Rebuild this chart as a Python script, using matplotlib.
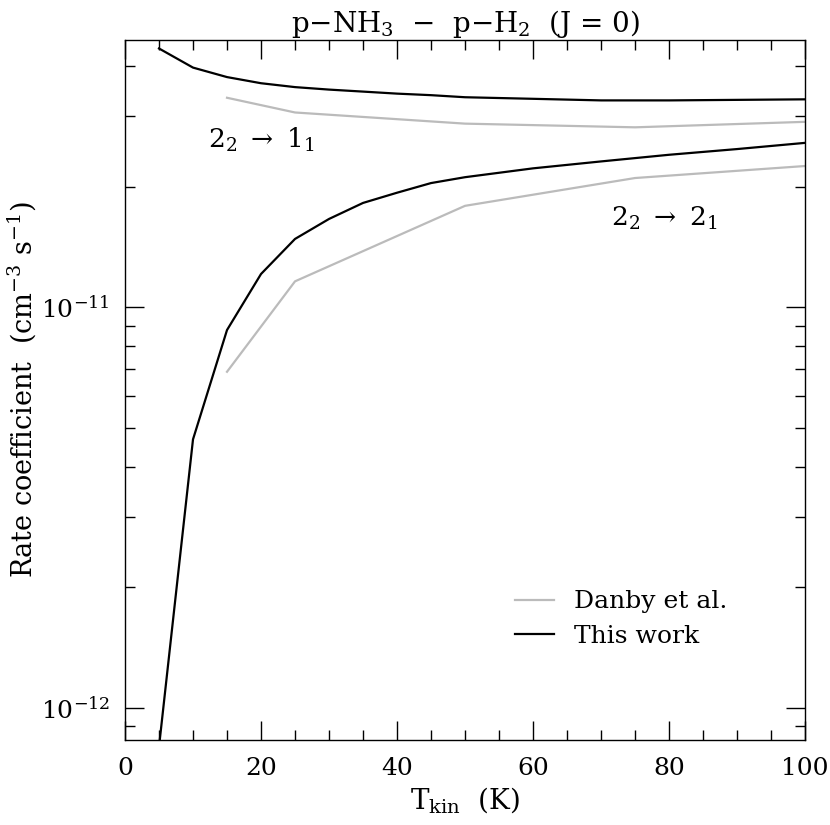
import matplotlib
matplotlib.use('Agg')
import matplotlib.pyplot as plt
from matplotlib.ticker import MultipleLocator, LogLocator, NullFormatter, FixedLocator

plt.rcParams['font.family'] = 'DejaVu Serif'
plt.rcParams['mathtext.fontset'] = 'dejavuserif'

# temperatures (K)
t_this = [5, 10, 15, 20, 25, 30, 35, 40, 45, 50, 60, 70, 80, 90, 100]
t_danby = [15, 25, 50, 75, 100]

# rate coefficients (cm^3 s^-1)
k11_this = [4.42e-11, 3.96e-11, 3.75e-11, 3.62e-11, 3.54e-11, 3.49e-11, 3.45e-11,
            3.41e-11, 3.38e-11, 3.34e-11, 3.31e-11, 3.28e-11, 3.28e-11, 3.29e-11, 3.30e-11]
k21_this = [8.0e-13, 4.68e-12, 8.77e-12, 1.21e-11, 1.48e-11, 1.66e-11, 1.82e-11,
            1.93e-11, 2.04e-11, 2.11e-11, 2.22e-11, 2.31e-11, 2.40e-11, 2.48e-11, 2.57e-11]
k11_danby = [3.33e-11, 3.06e-11, 2.87e-11, 2.81e-11, 2.90e-11]
k21_danby = [6.90e-12, 1.16e-11, 1.79e-11, 2.10e-11, 2.25e-11]

grey = '#bbbbbb'

fig = plt.figure(figsize=(8.3, 8.25), dpi=100)
ax = fig.add_axes([0.1506, 0.103, 0.8194, 0.8485])

ax.plot(t_danby, k11_danby, color=grey, lw=1.6, label='Danby et al.')
ax.plot(t_danby, k21_danby, color=grey, lw=1.6)
ax.plot(t_this, k11_this, color='black', lw=1.6, label='This work')
ax.plot(t_this, k21_this, color='black', lw=1.6)

ax.set_yscale('log')
ax.set_xlim(0, 100)
ax.set_ylim(8.32e-13, 4.64e-11)

ax.xaxis.set_major_locator(MultipleLocator(20))
ax.xaxis.set_minor_locator(MultipleLocator(5))
ax.yaxis.set_major_locator(FixedLocator([1e-12, 1e-11]))
ax.yaxis.set_minor_locator(LogLocator(base=10, subs=range(2, 10), numticks=10))
ax.yaxis.set_minor_formatter(NullFormatter())

ax.tick_params(which='both', direction='in', top=True, right=True, width=1.0,
               labelsize=18, colors='black')
ax.tick_params(which='major', length=14)
ax.tick_params(axis='x', which='major', pad=12)
ax.tick_params(axis='y', which='major', pad=11)
ax.tick_params(which='minor', length=7)
for s in ax.spines.values():
    s.set_linewidth(1.0)

ax.set_xlabel(r'T$_{\rm kin}$  (K)', fontsize=20, labelpad=4)
ax.set_ylabel(r'Rate coefficient  (cm$^{-3}$ s$^{-1}$)', fontsize=19.5)
ax.yaxis.set_label_coords(-0.128, 0.5)
ax.set_title(r'p$-$NH$_3$  $-$  p$-$H$_2$  (J = 0)', fontsize=20, pad=6)

ax.text(12.2, 2.5e-11, r'$2_2\ \rightarrow\ 1_1$', fontsize=19)
ax.text(71.5, 1.6e-11, r'$2_2\ \rightarrow\ 2_1$', fontsize=19)

ax.legend(loc='center left', bbox_to_anchor=(0.5735, 0.173), frameon=False, fontsize=18,
          borderpad=0, borderaxespad=0, handlelength=1.55, handletextpad=0.8,
          labelspacing=0.45)

fig.savefig('out.png', dpi=100)
